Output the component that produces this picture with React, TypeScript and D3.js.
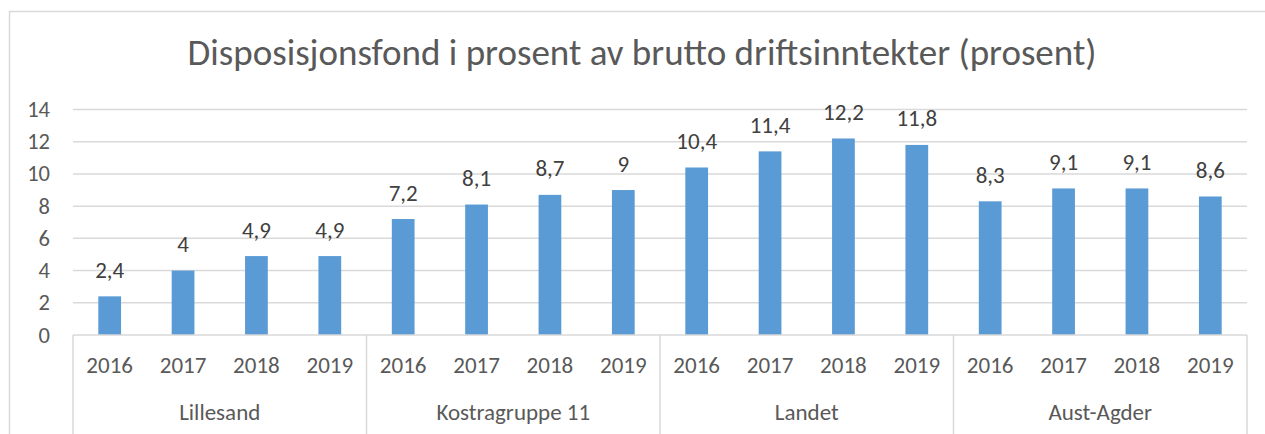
import React from "react";
import * as d3 from "d3";

const groups = ["Lillesand", "Kostragruppe 11", "Landet", "Aust-Agder"];
const years = ["2016", "2017", "2018", "2019"];
const lillesand = [2.4, 4, 4.9, 4.9];
const kostragruppe = [7.2, 8.1, 8.7, 9];
const landet = [10.4, 11.4, 12.2, 11.8];
const austAgder = [8.3, 9.1, 9.1, 8.6];
const yTicks = [0, 2, 4, 6, 8, 10, 12, 14];
const title = "Disposisjonsfond i prosent av brutto driftsinntekter (prosent)";

const seriesByGroup = [lillesand, kostragruppe, landet, austAgder];

const W = 1265, H = 434;
const left = 73, right = 1247, top = 109.5, bottom = 335;
const font = "Carlito, Calibri, Lato, sans-serif";

export default function App() {
  const x0 = d3.scaleBand().domain(groups).range([left, right]).padding(0);
  const x1 = d3.scaleBand().domain(years).range([0, x0.bandwidth()]).padding(0);
  const y = d3.scaleLinear().domain([0, 14]).range([bottom, top]);
  const barW = x1.bandwidth() * 0.31;
  const fmt = (v: number) => String(v).replace(".", ",");

  return (
    <svg width={W} height={H} style={{ position: "absolute", left: 0, top: 0, fontFamily: font }}>
      <rect x={0} y={0} width={W} height={H} fill="#fff" />
      <rect x={9.5} y={11.5} width={1265} height={440} fill="#fff" stroke="#d9d9d9" strokeWidth={1.5} />
      <text x={642} y={64.5} textAnchor="middle" fontSize={37} fill="#595959">{title}</text>
      {yTicks.map((t) => (
        <g key={t}>
          {t > 0 && <line x1={left} x2={right} y1={y(t)} y2={y(t)} stroke="#d9d9d9" strokeWidth={1.5} />}
          <text x={50} y={y(t) + 7.5} textAnchor="end" fontSize={22.5} fill="#595959">{t}</text>
        </g>
      ))}
      {groups.map((g, gi) =>
        years.map((yr, yi) => {
          const v = seriesByGroup[gi][yi];
          const cx = (x0(g) as number) + (x1(yr) as number) + x1.bandwidth() / 2;
          return (
            <g key={g + yr}>
              <rect x={cx - barW / 2} y={y(v)} width={barW} height={y(0) - y(v)} fill="#5B9BD5" />
              <text x={cx} y={y(v) - 18.5} textAnchor="middle" fontSize={23} fill="#404040">{fmt(v)}</text>
              <text x={cx} y={373.3} textAnchor="middle" fontSize={23} fill="#595959">{yr}</text>
            </g>
          );
        })
      )}
      <line x1={left} x2={right} y1={bottom} y2={bottom} stroke="#d9d9d9" strokeWidth={1.5} />
      {groups.map((g) => (
        <g key={g}>
          <line x1={x0(g) as number} x2={x0(g) as number} y1={bottom} y2={H} stroke="#d9d9d9" strokeWidth={1.5} />
          <text x={(x0(g) as number) + x0.bandwidth() / 2} y={420} textAnchor="middle" fontSize={23} fill="#595959">{g}</text>
        </g>
      ))}
      <line x1={right} x2={right} y1={bottom} y2={H} stroke="#d9d9d9" strokeWidth={1.5} />
    </svg>
  );
}
